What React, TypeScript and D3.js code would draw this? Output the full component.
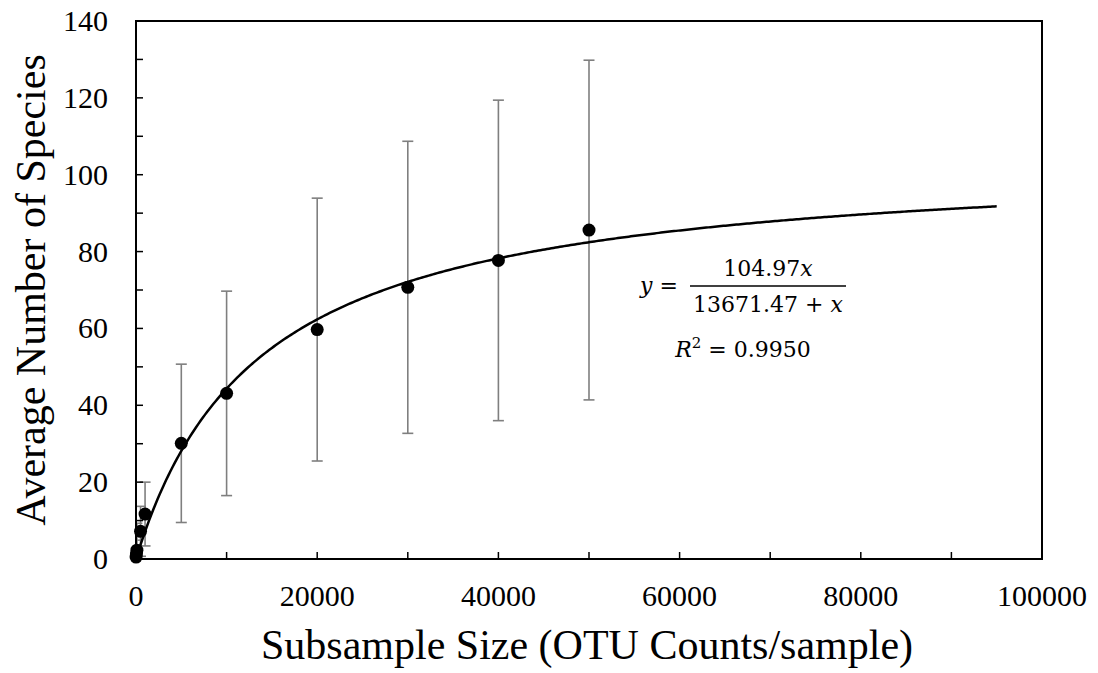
import React from "react";
import * as d3 from "d3";

const sampleSizes = [10, 50, 100, 500, 1000, 5000, 10000, 20000, 30000, 40000, 50000];
const meanSpecies = [0.5, 1.3, 2.3, 7.2, 11.7, 30.1, 43.1, 59.7, 70.7, 77.7, 85.6];
const errSpecies = [0.8, 3.6, 7.0, 6.5, 8.3, 20.6, 26.6, 34.2, 38.0, 41.7, 44.2];
const xTickLabels = [0, 20000, 40000, 60000, 80000, 100000];
const yTickLabels = [0, 20, 40, 60, 80, 100, 120, 140];
const fitA = 104.97;
const fitK = 13671.47;
const fitXMax = 95000;

const W = 1098, H = 673;
const L = 136, R = 1042, T = 21, B = 559;

export default function App() {
  const x = d3.scaleLinear().domain([0, 100000]).range([L, R]);
  const y = d3.scaleLinear().domain([0, 140]).range([B, T]);
  const fitPts = d3.range(0, 401).map((i) => (i / 400) * fitXMax);
  const line = d3
    .line<number>()
    .x((v) => x(v))
    .y((v) => y((fitA * v) / (fitK + v)))
    .curve(d3.curveLinear);
  const xMinor = d3.range(0, 100001, 10000);
  const yMinor = d3.range(0, 141, 10);
  const font = "'Liberation Serif', 'Times New Roman', serif";
  const mathFont = "'DejaVu Serif', 'Liberation Serif', serif";
  return (
    <svg width={W} height={H} style={{ position: "absolute", left: 0, top: 0, background: "#fff" }}>
      <defs>
        <clipPath id="plot">
          <rect x={L} y={T} width={R - L} height={B - T} />
        </clipPath>
      </defs>
      <rect x={0} y={0} width={W} height={H} fill="#fff" />
      {/* error bars */}
      <g clipPath="url(#plot)" stroke="#7f7f7f" strokeWidth={1.6}>
        {sampleSizes.map((s, i) => {
          const cx = x(s);
          const y1 = y(meanSpecies[i] + errSpecies[i]);
          const y0 = y(meanSpecies[i] - errSpecies[i]);
          return (
            <g key={i}>
              <line x1={cx} x2={cx} y1={y1} y2={y0} />
              <line x1={cx - 5.5} x2={cx + 5.5} y1={y1} y2={y1} />
              <line x1={cx - 5.5} x2={cx + 5.5} y1={y0} y2={y0} />
            </g>
          );
        })}
      </g>
      {/* fit curve */}
      <path d={line(fitPts) || ""} fill="none" stroke="#000" strokeWidth={2.5} />
      {/* points */}
      {sampleSizes.map((s, i) => (
        <circle key={i} cx={x(s)} cy={y(meanSpecies[i])} r={6.5} fill="#000" />
      ))}
      {/* axes frame */}
      <rect x={L} y={T} width={R - L} height={B - T} fill="none" stroke="#000" strokeWidth={2} />
      {xMinor.map((v) => (
        <line key={"xt" + v} x1={x(v)} x2={x(v)} y1={B} y2={B - 7} stroke="#000" strokeWidth={1.5} />
      ))}
      {yMinor.map((v) => (
        <line key={"yt" + v} x1={L} x2={L + 7} y1={y(v)} y2={y(v)} stroke="#000" strokeWidth={1.5} />
      ))}
      {xTickLabels.map((v) => (
        <text key={"xl" + v} x={x(v)} y={606} textAnchor="middle" fontFamily={font} fontSize={30} fill="#000">
          {v}
        </text>
      ))}
      {yTickLabels.map((v) => (
        <text key={"yl" + v} x={108} y={y(v) + 10} textAnchor="end" fontFamily={font} fontSize={30} fill="#000">
          {v}
        </text>
      ))}
      <text x={587} y={659} textAnchor="middle" fontFamily={font} fontSize={42} fill="#000">
        Subsample Size (OTU Counts/sample)
      </text>
      <text
        transform={`translate(45,290) rotate(-90)`}
        textAnchor="middle"
        fontFamily={font}
        fontSize={42}
        fill="#000"
      >
        Average Number of Species
      </text>
      {/* equation */}
      <g fontFamily={mathFont} fontSize={22} fill="#000">
        <text x={640} y={293}>
          <tspan fontStyle="italic">y</tspan> =
        </text>
        <line x1={690} x2={846} y1={286} y2={286} stroke="#000" strokeWidth={1.6} />
        <text x={768} y={276} textAnchor="middle">
          {fitA.toFixed(2)}
          <tspan fontStyle="italic">x</tspan>
        </text>
        <text x={768} y={312} textAnchor="middle">
          {fitK.toFixed(2)} + <tspan fontStyle="italic">x</tspan>
        </text>
        <text x={743} y={357} textAnchor="middle">
          <tspan fontStyle="italic">R</tspan>
          <tspan dy={-9} fontSize={15}>2</tspan>
          <tspan dy={9}> = 0.9950</tspan>
        </text>
      </g>
    </svg>
  );
}
